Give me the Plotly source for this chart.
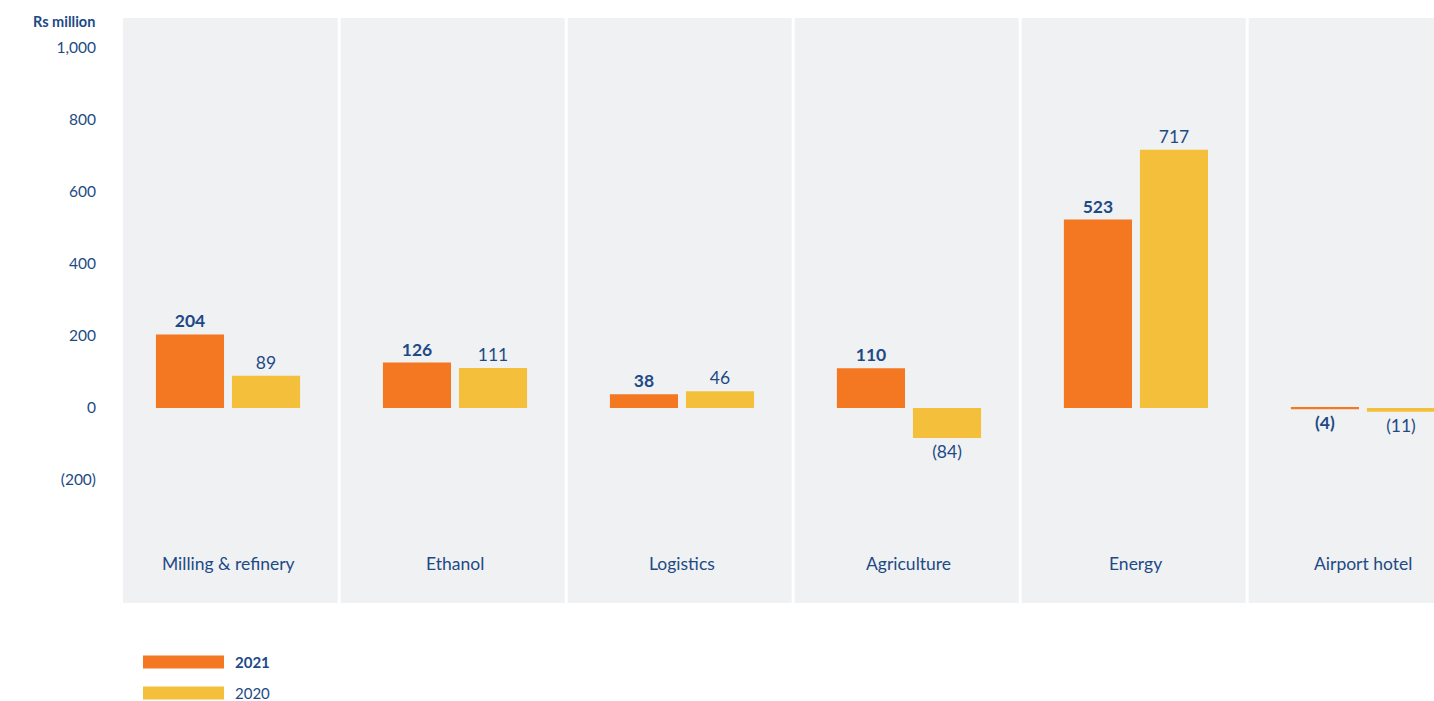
import plotly.graph_objects as go

# Segment results, Rs million
segments = ["Milling & refinery", "Ethanol", "Logistics", "Agriculture", "Energy", "Airport hotel"]
values_2021 = [204, 126, 38, 110, 523, -4]
values_2020 = [89, 111, 46, -84, 717, -11]
tick_values = [1000, 800, 600, 400, 200, 0, -200]
tick_labels = ["1,000", "800", "600", "400", "200", "0", "(200)"]

ORANGE = "#F47721"
YELLOW = "#F4C03B"
PANEL = "#F0F1F3"
INK = "#1D4A85"
FONT = "Lato, 'Open Sans', sans-serif"


def fmt(v):
    return f"({abs(v):,})" if v < 0 else f"{v:,}"


x_pos = list(range(len(segments)))
bar_w = 0.30
gap = 0.035

fig = go.Figure()
fig.add_trace(go.Bar(
    x=x_pos, y=values_2021, name="2021",
    width=bar_w, offset=-bar_w - gap / 2,
    marker=dict(color=ORANGE, line=dict(width=0)),
    text=[fmt(v) for v in values_2021], textposition="outside",
    textfont=dict(family=FONT, size=17.5, color=INK, weight="bold"),
    cliponaxis=False, showlegend=False,
))
fig.add_trace(go.Bar(
    x=x_pos, y=values_2020, name="2020",
    width=bar_w, offset=gap / 2,
    marker=dict(color=YELLOW, line=dict(width=0)),
    text=[fmt(v) for v in values_2020], textposition="outside",
    textfont=dict(family=FONT, size=17.5, color=INK),
    cliponaxis=False, showlegend=False,
))

shapes = []
# white separators between segment panels
for i in range(len(segments) - 1):
    shapes.append(dict(type="line", xref="x", yref="paper", x0=i + 0.49, x1=i + 0.49,
                       y0=0, y1=1, line=dict(color="white", width=3), layer="below"))

# legend swatches
legend_items = [("2021", ORANGE, "bold", 662), ("2020", YELLOW, "normal", 693)]
annotations = []
for label, color, weight, ypix in legend_items:
    shapes.append(dict(type="rect", xref="paper", yref="paper",
                       x0=(143 - 123) / 1311, x1=(224 - 123) / 1311,
                       y0=(603 - ypix - 6.5) / 585, y1=(603 - ypix + 6.5) / 585,
                       fillcolor=color, line=dict(width=0)))
    annotations.append(dict(xref="paper", yref="paper", x=(233 - 123) / 1311,
                            y=(603 - ypix) / 585, text=label, showarrow=False,
                            xanchor="left", yanchor="middle",
                            font=dict(family=FONT, size=15, color=INK, weight=weight)))

# segment names inside the panels
for i, name in enumerate(segments):
    annotations.append(dict(x=i, y=-431, xref="x", yref="y", text=name, showarrow=False,
                            xanchor="center", yanchor="middle",
                            font=dict(family=FONT, size=17.5, color=INK)))

# axis unit label
annotations.append(dict(xref="paper", yref="paper", x=-26 / 1311, y=(603 - 22) / 585,
                        text="Rs million", showarrow=False, xanchor="right", yanchor="middle",
                        font=dict(family=FONT, size=14.5, color=INK, weight="bold")))

fig.update_layout(
    width=1434, height=701,
    margin=dict(l=123, r=0, t=18, b=98),
    paper_bgcolor="white", plot_bgcolor=PANEL,
    xaxis=dict(range=[-0.4626, 5.313], showgrid=False, zeroline=False,
               showticklabels=False, fixedrange=True),
    yaxis=dict(range=[-542, 1083], tickvals=tick_values, ticktext=tick_labels,
               showgrid=False, zeroline=False, ticklabelstandoff=26,
               tickfont=dict(family=FONT, size=15.5, color=INK)),
    shapes=shapes, annotations=annotations,
    font=dict(family=FONT, color=INK),
)

fig.write_html("out.html")
